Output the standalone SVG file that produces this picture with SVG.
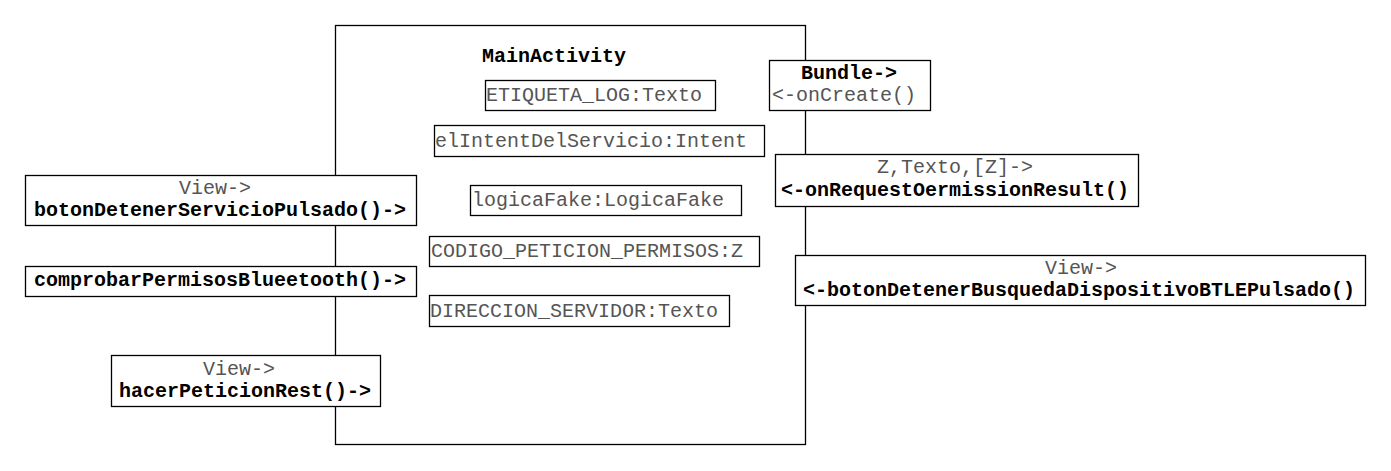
<svg xmlns="http://www.w3.org/2000/svg" width="1391" height="471" viewBox="0 0 1391 471">
<style>
rect{fill:#fff;stroke:#000;stroke-width:1.3}
text{font-family:"Liberation Mono","DejaVu Sans Mono",monospace;font-size:20px;text-anchor:middle}
.n{fill:#555}
.b{font-weight:bold;fill:#000}
</style>
<rect x="0" y="0" width="1391" height="471" style="stroke:none"/>
<g id="MainActivity">
<rect x="335.5" y="25.5" width="470" height="419"/>
<text class="b" x="554" y="62">MainActivity</text>
</g>
<g id="connectors"></g>
<g id="ETIQUETA_LOG">
<rect x="485.5" y="80.5" width="230" height="30"/>
<text class="n" x="594" y="101">ETIQUETA_LOG:Texto</text>
</g>
<g id="elIntentDelServicio">
<rect x="434.5" y="125.5" width="330" height="31"/>
<text class="n" x="591" y="147">elIntentDelServicio:Intent</text>
</g>
<g id="logicaFake">
<rect x="470.5" y="185.5" width="271" height="30"/>
<text class="n" x="598" y="206">logicaFake:LogicaFake</text>
</g>
<g id="CODIGO_PETICION_PERMISOS">
<rect x="429.5" y="236.5" width="330" height="30"/>
<text class="n" x="587" y="257">CODIGO_PETICION_PERMISOS:Z</text>
</g>
<g id="DIRECCION_SERVIDOR">
<rect x="429.5" y="295.5" width="300" height="31"/>
<text class="n" x="574" y="317">DIRECCION_SERVIDOR:Texto</text>
</g>
<g id="botonDetenerServicioPulsado">
<rect x="25.5" y="175.5" width="391" height="50"/>
<text class="n" x="215" y="194">View-&gt;</text>
<text class="b" x="220" y="216">botonDetenerServicioPulsado()-&gt;</text>
</g>
<g id="comprobarPermisosBlueetooth">
<rect x="25.5" y="266.5" width="391" height="30"/>
<text class="b" x="220" y="286">comprobarPermisosBlueetooth()-&gt;</text>
</g>
<g id="hacerPeticionRest">
<rect x="111.5" y="355.5" width="269" height="51"/>
<text class="n" x="239" y="375">View-&gt;</text>
<text class="b" x="245" y="397">hacerPeticionRest()-&gt;</text>
</g>
<g id="onCreate">
<rect x="769.5" y="60.5" width="161" height="50"/>
<text class="b" x="849" y="79">Bundle-&gt;</text>
<text class="n" x="844" y="101">&lt;-onCreate()</text>
</g>
<g id="onRequestOermissionResult">
<rect x="775.5" y="154.5" width="363" height="52"/>
<text class="n" x="955" y="173">Z,Texto,[Z]-&gt;</text>
<text class="b" x="955" y="196">&lt;-onRequestOermissionResult()</text>
</g>
<g id="botonDetenerBusquedaDispositivoBTLEPulsado">
<rect x="795.5" y="255.5" width="570" height="50"/>
<text class="n" x="1081" y="274">View-&gt;</text>
<text class="b" x="1079" y="296">&lt;-botonDetenerBusquedaDispositivoBTLEPulsado()</text>
</g>
</svg>
